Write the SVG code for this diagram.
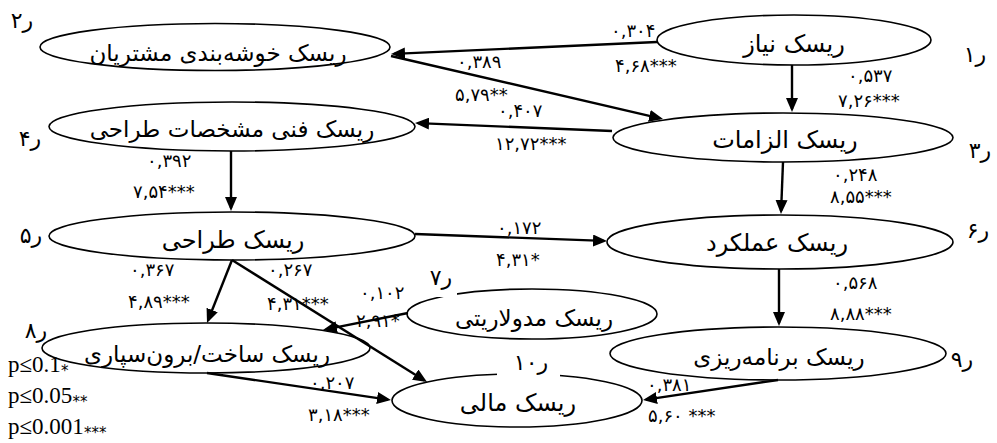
<svg xmlns="http://www.w3.org/2000/svg" width="997" height="443" viewBox="0 0 997 443">
<style>
.node ellipse{fill:#fff;stroke:#000;stroke-width:1.6}
.nt{font-family:"DejaVu Sans",sans-serif;font-size:23px;text-anchor:middle;fill:#000}
.big{font-size:24px}
.num{font-family:"DejaVu Sans",sans-serif;font-size:18px;fill:#000}
.err{font-family:"DejaVu Sans",sans-serif;font-size:22px;text-anchor:middle;fill:#000}
.leg{font-family:"Liberation Serif",serif;font-size:23px;fill:#000}
.star{font-family:"DejaVu Sans",sans-serif;font-size:15px}
.conn line{stroke:#000;stroke-width:2.4;marker-end:url(#ah)}
.mask{fill:#fff}
</style>
<defs>
<marker id="ah" markerUnits="userSpaceOnUse" viewBox="0 0 14 12" refX="11" refY="6" markerWidth="14" markerHeight="12" orient="auto">
<path d="M0,0 L14,6 L0,12 z" fill="#000"/>
</marker>
</defs>
<rect width="997" height="443" fill="#fff"/>

<g id="n1" class="node"><ellipse cx="794" cy="40" rx="137" ry="25"/><text class="nt big" x="794" y="52" direction="rtl">ریسک نیاز</text></g>
<g id="n2" class="node"><ellipse cx="215" cy="47" rx="175" ry="23.5"/><text class="nt" x="218" y="61" direction="rtl">ریسک خوشه&#x200C;بندی مشتریان</text></g>
<g id="n3" class="node"><ellipse cx="783" cy="137.5" rx="170" ry="24.5"/><text class="nt big" x="785" y="148" direction="rtl">ریسک الزامات</text></g>
<g id="n4" class="node"><ellipse cx="232" cy="126.5" rx="183" ry="24.5"/><text class="nt" x="232" y="137" direction="rtl">ریسک فنی مشخصات طراحی</text></g>
<g id="n5" class="node"><ellipse cx="232" cy="236" rx="183" ry="24"/><text class="nt big" x="233" y="248" direction="rtl">ریسک طراحی</text></g>
<g id="n6" class="node"><ellipse cx="780" cy="242" rx="173" ry="27"/><text class="nt big" x="777" y="251" direction="rtl">ریسک عملکرد</text></g>
<g id="n7" class="node"><ellipse cx="532" cy="314" rx="125" ry="25"/><text class="nt" x="534" y="326" direction="rtl">ریسک مدولاریتی</text></g>
<g id="n8" class="node"><ellipse cx="206" cy="348" rx="164" ry="25"/><text class="nt" x="207" y="362" direction="rtl">ریسک ساخت/برون&#x200C;سپاری</text></g>
<g id="n9" class="node"><ellipse cx="778" cy="353.5" rx="168" ry="26.5"/><text class="nt" x="779" y="365" direction="rtl">ریسک برنامه&#x200C;ریزی</text></g>
<g id="n10" class="node"><ellipse cx="517" cy="400.5" rx="125" ry="26.5"/><text class="nt big" x="518" y="411" direction="rtl">ریسک مالی</text></g>

<g id="connectors" class="conn">
<line x1="657" y1="42" x2="394" y2="53.9"/>
<line x1="391" y1="56" x2="660.1" y2="118.3"/>
<line x1="792" y1="65" x2="792" y2="109"/>
<line x1="612" y1="131" x2="418" y2="123.1"/>
<line x1="783" y1="162" x2="781.1" y2="211"/>
<line x1="231" y1="151" x2="231" y2="208"/>
<line x1="415" y1="234" x2="604" y2="240.9"/>
<line x1="232" y1="260" x2="208.1" y2="320.2"/>
<line x1="232" y1="260" x2="424.5" y2="380.4"/>
<line x1="408" y1="313" x2="325.9" y2="329.4"/>
<line x1="779" y1="269" x2="779" y2="323"/>
<line x1="207" y1="373" x2="388" y2="399.6"/>
<line x1="778" y1="380" x2="646" y2="399.6"/>
</g>

<g id="labels">
<text class="num" x="611" y="37">۰,۳۰۴</text>
<text class="num" x="615" y="72">۴,۶۸***</text>
<text class="num" x="457" y="68">۰,۳۸۹</text>
<text class="num" x="455" y="101">۵,۷۹**</text>
<text class="num" x="498" y="117">۰,۴۰۷</text>
<text class="num" x="495" y="150">۱۲,۷۲***</text>
<text class="num" x="848" y="82">۰,۵۳۷</text>
<text class="num" x="838" y="107">۷,۲۶***</text>
<text class="num" x="147" y="167">۰,۳۹۲</text>
<text class="num" x="133" y="198">۷,۵۴***</text>
<text class="num" x="833" y="181">۰,۲۴۸</text>
<text class="num" x="830" y="203">۸,۵۵***</text>
<text class="num" x="497" y="234">۰,۱۷۲</text>
<text class="num" x="496" y="266">۴,۳۱*</text>
<text class="num" x="130" y="276">۰,۳۶۷</text>
<text class="num" x="268" y="276">۰,۲۶۷</text>
<text class="num" x="128" y="308">۴,۸۹***</text>
<text class="num" x="267" y="310">۴,۳۱***</text>
<text class="num" x="360" y="299">۰,۱۰۲</text>
<text class="num" x="356" y="327">۲,۹۱*</text>
<text class="num" x="833" y="289">۰,۵۶۸</text>
<text class="num" x="830" y="320">۸,۸۸***</text>
<text class="num" x="310" y="389">۰,۲۰۷</text>
<text class="num" x="308" y="421">۳,۱۸***</text>
<text class="num" x="647" y="391">۰,۳۸۱</text>
<text class="num" x="648" y="422">۵,۶۰ ***</text>
</g>

<g id="errors">
<text class="err" x="975" y="62" direction="rtl">ر۱</text>
<text class="err" x="22" y="28" direction="rtl">ر۲</text>
<text class="err" x="980" y="158" direction="rtl">ر۳</text>
<text class="err" x="30" y="146" direction="rtl">ر۴</text>
<text class="err" x="31" y="243" direction="rtl">ر۵</text>
<text class="err" x="978" y="238" direction="rtl">ر۶</text>
<rect class="mask" x="428" y="266" width="29" height="31"/>
<text class="err" x="441" y="285" direction="rtl">ر۷</text>
<text class="err" x="36" y="338" direction="rtl">ر۸</text>
<text class="err" x="962" y="367" direction="rtl">ر۹</text>
<rect class="mask" x="497" y="352" width="63" height="25"/>
<text class="err" x="531" y="370" direction="rtl">ر۱۰</text>
</g>

<g id="legend">
<text class="leg" x="8" y="372">p≤0.1<tspan class="star" dy="4">*</tspan></text>
<text class="leg" x="8" y="403">p≤0.05<tspan class="star" dy="4">**</tspan></text>
<text class="leg" x="8" y="434">p≤0.001<tspan class="star" dy="4">***</tspan></text>
</g>
</svg>
